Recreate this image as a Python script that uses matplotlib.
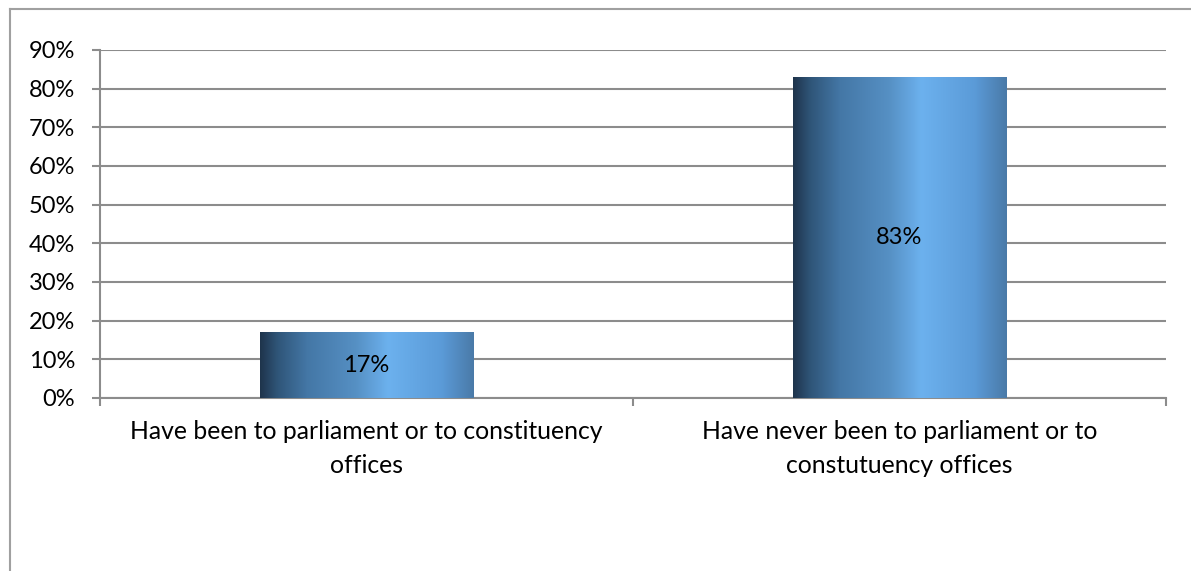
import matplotlib.pyplot as plt
import numpy as np
from matplotlib.colors import LinearSegmentedColormap
from matplotlib.patches import Rectangle
from matplotlib.lines import Line2D

categories = ["Have been to parliament or to constituency\noffices",
              "Have never been to parliament or to\nconstutuency offices"]
values = [17, 83]
value_labels = ["17%", "83%"]
y_ticks = [0, 10, 20, 30, 40, 50, 60, 70, 80, 90]

plt.rcParams['font.family'] = ['Lato', 'DejaVu Sans']
fs = 17
fs_cat = 17.8

fig = plt.figure(figsize=(11.91, 5.71), dpi=100)
# outer chart frame (left and top edges visible)
fig.add_artist(Line2D([10/1191, 10/1191], [0, 1 - 9/571], color="#a0a0a0", lw=1.5))
fig.add_artist(Line2D([10/1191, 1], [1 - 9/571, 1 - 9/571], color="#a0a0a0", lw=1.5))

ax = fig.add_axes([100/1191, 1 - 398/571, 1066/1191, 348/571])

# horizontal gradient used for the bars
grad = LinearSegmentedColormap.from_list("bar", [
    (0.0, "#1e344c"), (0.08, "#2f5578"), (0.22, "#4477a6"), (0.45, "#5690c4"),
    (0.6, "#6cb1ee"), (0.85, "#5b9bd8"), (1.0, "#4a7aa8")])
g = np.linspace(0, 1, 256).reshape(1, -1)

width = 0.4
for i, v in enumerate(values):
    x0 = i - width / 2
    im = ax.imshow(g, cmap=grad, aspect="auto", extent=[x0, x0 + width, 0, v],
                   zorder=3, interpolation="bilinear")
    rect = Rectangle((x0, 0), width, v, transform=ax.transData)
    im.set_clip_path(rect)
    ax.text(i, v / 2, value_labels[i], ha="center", va="center", fontsize=fs,
            color="black", zorder=4)

ax.set_xlim(-0.5, 1.5)
ax.set_ylim(0, 90)
ax.set_yticks(y_ticks)
ax.set_yticklabels([f"{t}%" for t in y_ticks], fontsize=fs)
ax.set_xticks([-0.5, 0.5, 1.5], minor=False)
ax.set_xticklabels([])
ax.set_xticks([0, 1], minor=True)
ax.set_xticklabels(categories, minor=True, fontsize=fs_cat, linespacing=1.55)
ax.tick_params(axis="x", which="minor", length=0, pad=16)
ax.tick_params(axis="x", which="major", length=6, width=1.5, color="#8c8c8c")
ax.tick_params(axis="y", length=6, width=1.5, color="#8c8c8c", pad=12)

ax.grid(axis="y", color="#8c8c8c", lw=1.5, zorder=1)
ax.set_axisbelow(True)
for s in ["top", "right"]:
    ax.spines[s].set_visible(False)
for s in ["left", "bottom"]:
    ax.spines[s].set_color("#8c8c8c")
    ax.spines[s].set_linewidth(1.5)

fig.savefig("out.png", dpi=100)
